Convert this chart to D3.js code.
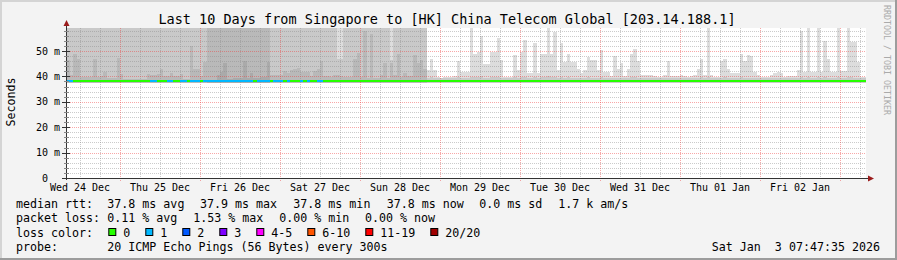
<!DOCTYPE html>
<meta charset="utf-8">
<style>
  body { margin: 0; background: #f3f3f3; }
  text { font-family: "DejaVu Sans Mono", monospace; white-space: pre; }
</style>
<svg width="897" height="260"></svg>
<script src="https://cdnjs.cloudflare.com/ajax/libs/d3/7.8.5/d3.min.js"></script>
<script>
  // graph window, UTC
  var startTime = new Date(Date.UTC(2025, 11, 24, 7, 47, 35));
  var endTime = new Date(Date.UTC(2026, 0, 3, 7, 47, 35));
  var firstBin = new Date(Date.UTC(2025, 11, 24, 8, 0, 0)); // hourly bins start here

  var medianRtt = 37.8;
  var smokeFloor = 37.6;

  // smoke layers, ms per hour (70 = off the top of the graph)
  var smokeMax = [
    70,70,70,70,70,70,70,70,70,70,70,70,70,70,70,70,
    70,70,70,70,70,70,70,70,70,70,70,70,70,70,70,70,70,70,70,70,70,70,70,70,
    70,70,70,70,70,70,70,70,70,70,70,70,70,70,70,70,70,70,70,70,70,70,70,70,
    70,70,70,70,70,70,70,70,70,70,70,70,70,70,70,70,70,70,70,70,70,70,70,70,
    70,70,70,70,70,70,70,70,70,70,70,70,70,70,70,70,70,70,70,70,42.5,47,42.5,39.9,
    39.4,39.8,39.8,39.8,40,46,41.7,41.7,41.7,59.4,49,49.6,56,45,45,49.6,49.6,55,46.5,39.8,
    39.8,39.8,48.4,42.5,49.6,54.3,41.3,41.3,53,41.3,49,49,59.4,49,57.5,42.5,53,45.5,49,45.7,
    45.7,43,41.3,42.5,47.6,46.5,46.5,42.5,50.4,41.7,41.7,40.2,48,43,45.3,40.2,43,49,50.8,46,
    40.5,40.5,40.5,40.5,40,39.6,39.6,40.5,46,40,40.2,40,40.5,40,39.6,40.2,40.5,43,47,40.5,
    59.4,40.5,39.6,39.6,46,47,43,41.3,41.3,41.3,49,46,48.4,48,41.7,40.5,39.6,39.6,39.6,40.5,
    41.3,41.7,41.3,39.6,40.2,40.2,40,42.5,58,41.7,59.4,41.7,41.7,59.4,41.7,54,47,41.7,41.7,59.4,
    42,42,59.4,53.5,53.5,45.7,39.6,39.6
  ];
  var smokeHigh = [
    70,70,70,70,70,70,70,70,70,70,70,70,70,70,70,70,
    70,70,70,70,70,70,70,70,70,70,70,70,70,70,70,70,70,70,70,70,70,70,70,70,
    70,70,70,70,70,70,70,70,70,70,70,70,70,70,70,70,70,70,70,70,70,70,70,70,
    70,70,70,70,70,70,70,70,70,70,70,70,70,70,70,70,70,47,47,70,70,70,70,70,
    70,70,70,70,70,70,70,70,70,46.5,70,70,70,70,70,70,70,70,70,70,39.4,39.6,39.4,39.2,
    39.2,39.2,39.2,39.2,39.2,39.6,39.4,39.2,39.2,39.8,39.6,39.6,40,39.4,39.4,39.8,39.6,39.8,39.4,39.2,
    39.2,39.2,39.6,39.4,39.6,39.8,39.2,39.2,39.6,39.2,39.6,39.6,40,39.6,39.8,39.4,39.6,39.4,39.6,39.4,
    39.4,39.4,39.2,39.4,39.6,39.4,39.4,39.2,39.6,39.2,39.2,39.2,39.4,39.2,39.4,39.2,39.4,39.6,39.6,39.4,
    39.2,39.2,39.2,39.2,39.2,39.2,39.2,39.2,39.4,39.2,39.2,39.2,39.2,39.2,39.2,39.2,39.2,39.4,39.6,39.2,
    39.8,39.2,39.2,39.2,39.4,39.6,39.4,39.2,39.2,39.2,39.6,39.4,39.4,39.4,39.2,39.2,39.2,39.2,39.2,39.2,
    39.2,39.2,39.2,39.2,39.2,39.2,39.2,39.2,39.6,39.2,39.8,39.2,39.2,39.8,39.2,39.6,39.4,39.2,39.2,39.8,
    39.2,39.2,39.8,39.6,39.4,39.4,39.2,39.2
  ];
  var smokeMid = [
    46.5,40.5,49,47,39.9,39.9,39.9,39.9,47,39.6,40.2,41.7,39.4,39.4,39.4,47.4,
    41,38.8,38.8,38.8,38.8,38.8,38.8,38.8,41,40.5,40.5,41,43,40,40,41.3,40.2,40.2,41,38.8,38.8,52,43,43,
    40,45.7,70,70,70,70,70,70,70,70,70,70,70,70,70,70,70,70,70,70,70,40.5,40.5,40.5,
    40.5,42,41.5,42.5,43,43.3,41.7,41.7,41.7,40,42,43,46,40.3,40.3,39.9,40.5,40.5,40,39.9,39.6,39.6,47,49.2,
    39.6,58,39.4,56.7,39.4,39.4,40.5,45.3,39.4,45.3,40.5,49,39.9,41.3,40,40,48.4,45.3,46.5,43,0,0,0,0,
    0,0,0,0,0,0,0,0,0,0,0,0,0,0,0,0,0,0,0,0,0,0,0,0,
    0,0,0,0,0,0,0,0,0,0,0,0,0,0,0,0,0,0,0,0,0,0,0,0,
    0,0,0,0,0,0,0,0,0,0,0,0,0,0,0,0,0,0,0,0,0,0,0,0,
    0,0,0,0,0,0,0,0,0,0,0,0,0,0,0,0,0,0,0,0,0,0,0,0,
    0,0,0,0,0,0,0,0,0,0,0,0,0,0,0,0,0,0,0,0,0,0,0,0,
    0,0,0,0,0,0,0,0
  ];
  var smokeLow = [
    0,0,0,0,0,0,0,0,0,0,0,0,0,0,0,0,
    0,0,0,0,0,0,0,0,0,0,0,0,0,0,0,0,0,0,0,0,0,0,0,0,
    0,0,38.6,38.6,38.6,40.5,41.9,45.3,38.8,38.8,39.4,39.4,39.4,46,39.4,41.3,39.4,39.4,39.8,39.8,45.7,0,0,0
  ];
  // lost pings (of 20) per hour
  var lossCount = [
    1,1,0,0,0,0,0,0,0,0,0,0,0,0,0,0,
    0,0,0,0,0,0,0,0,0,1,1,0,0,0,1,1,0,0,1,1,0,1,1,1,
    0,1,1,1,1,1,1,1,1,1,1,1,1,1,1,1,0,1,1,1,1,0,1,1,
    1,0,1,0,0,0,1,0,1,0,0,1,1,0,0,0,0,0,0,0,0,0,0,0
  ];

  var lossLabels = ["0", "1", "2", "3", "4-5", "6-10", "11-19", "20/20"];
  var lossColors = ["#26ff00", "#00b8ff", "#0059ff", "#7e00ff", "#ff00ff", "#ff5500", "#ff0000", "#a00000"];
  var yTicks = [0, 10, 20, 30, 40, 50];
  var yTickLabels = ["0", "10 m", "20 m", "30 m", "40 m", "50 m"];

  var title = "Last 10 Days from Singapore to [HK] China Telecom Global [203.14.188.1]";
  var rttStats = ["median rtt:", "37.8 ms avg", "37.9 ms max", "37.8 ms min", "37.8 ms now", "0.0 ms sd", "1.7 k am/s"];
  var lossStats = ["packet loss:", "0.11 % avg", "1.53 % max", "0.00 % min", "0.00 % now"];
  var probeText = ["probe:", "20 ICMP Echo Pings (56 Bytes) every 300s"];
  var stamp = "Sat Jan  3 07:47:35 2026";

  var svg = d3.select("svg");
  var x = d3.scaleUtc().domain([startTime, endTime]).range([66, 866]);
  var y = d3.scaleLinear().domain([0, 59.06]).range([178, 28]);

  // frame
  svg.append("rect").attr("width", 897).attr("height", 260).attr("fill", "#f3f3f3");
  svg.append("rect").attr("x", 0).attr("y", 0).attr("width", 897).attr("height", 2).attr("fill", "#d4d4d4");
  svg.append("rect").attr("x", 0).attr("y", 0).attr("width", 2).attr("height", 260).attr("fill", "#d4d4d4");
  svg.append("rect").attr("x", 0).attr("y", 258).attr("width", 897).attr("height", 2).attr("fill", "#9c9c9c");
  svg.append("rect").attr("x", 895).attr("y", 0).attr("width", 2).attr("height", 260).attr("fill", "#9c9c9c");

  svg.append("defs").append("clipPath").attr("id", "plot")
    .append("rect").attr("x", 66).attr("y", 28).attr("width", 800).attr("height", 150);
  svg.append("rect").attr("x", 66).attr("y", 28).attr("width", 800).attr("height", 150).attr("fill", "#fff");

  function binX0(i) { return i === 0 ? x(startTime) : x(d3.utcHour.offset(firstBin, i)); }
  function binX1(i) { return Math.min(x(d3.utcHour.offset(firstBin, i + 1)), x(endTime)); }

  // smoke
  var layers = [
    { values: smokeMax, color: "#dddddd" },
    { values: smokeHigh, color: "#c9c9c9" },
    { values: smokeMid, color: "#b9b9b9" },
    { values: smokeLow, color: "#aaaaaa" }
  ];
  layers.forEach(function(layer) {
    var bins = layer.values.map(function(v, i) { return { v: v, i: i }; })
      .filter(function(d) { return d.v > smokeFloor; });
    svg.append("g").attr("clip-path", "url(#plot)")
      .selectAll("rect").data(bins).enter().append("rect")
      .attr("shape-rendering", "crispEdges")
      .attr("x", function(d) { return binX0(d.i); })
      .attr("width", function(d) { return binX1(d.i) - binX0(d.i); })
      .attr("y", function(d) { return y(Math.min(d.v, 59.06)); })
      .attr("height", function(d) { return y(smokeFloor) - y(Math.min(d.v, 59.06)); })
      .attr("fill", layer.color);
  });

  // grid
  var grid = svg.append("g");
  var minorY = d3.range(2, 59, 2).filter(function(v) { return v % 10 !== 0; });
  var minorX = d3.utcHour.every(6).range(startTime, endTime).filter(function(t) { return t.getUTCHours() !== 0; });
  var days = d3.utcDay.range(startTime, endTime);
  grid.selectAll(".mny").data(minorY).enter().append("line")
    .attr("x1", 66).attr("x2", 866)
    .attr("y1", function(d) { return Math.round(y(d)) + 0.5; })
    .attr("y2", function(d) { return Math.round(y(d)) + 0.5; })
    .attr("stroke", "rgba(140,140,140,0.45)").attr("stroke-dasharray", "1,1");
  grid.selectAll(".mnx").data(minorX).enter().append("line")
    .attr("y1", 28).attr("y2", 178)
    .attr("x1", function(d) { return Math.round(x(d)) + 0.5; })
    .attr("x2", function(d) { return Math.round(x(d)) + 0.5; })
    .attr("stroke", "rgba(140,140,140,0.45)").attr("stroke-dasharray", "1,1");
  grid.selectAll(".mjy").data(yTicks.slice(1)).enter().append("line")
    .attr("x1", 66).attr("x2", 866)
    .attr("y1", function(d) { return Math.round(y(d)) + 0.5; })
    .attr("y2", function(d) { return Math.round(y(d)) + 0.5; })
    .attr("stroke", "rgba(240,60,60,0.45)").attr("stroke-dasharray", "1,1");
  grid.selectAll(".mjx").data(days).enter().append("line")
    .attr("y1", 28).attr("y2", 181)
    .attr("x1", function(d) { return Math.round(x(d)) + 0.5; })
    .attr("x2", function(d) { return Math.round(x(d)) + 0.5; })
    .attr("stroke", "rgba(240,60,60,0.45)").attr("stroke-dasharray", "1,1");

  // median line coloured by loss
  var my = Math.round(y(medianRtt)) - 1;
  svg.append("g").attr("clip-path", "url(#plot)")
    .selectAll("rect").data(d3.range(240)).enter().append("rect")
    .attr("shape-rendering", "crispEdges")
    .attr("x", function(i) { return binX0(i); })
    .attr("width", function(i) { return binX1(i) - binX0(i); })
    .attr("y", my - 1).attr("height", 2)
    .attr("fill", function(i) { return lossColors[lossCount[i] || 0]; });

  // axes
  var axisColor = "#333";
  svg.append("line").attr("x1", 66.5).attr("x2", 66.5).attr("y1", 180).attr("y2", 22).attr("stroke", axisColor);
  svg.append("line").attr("x1", 62).attr("x2", 869).attr("y1", 178.5).attr("y2", 178.5).attr("stroke", axisColor);
  svg.append("path").attr("d", "M63.5,26L66.5,20L69.5,26Z").attr("fill", "#9b1c1c");
  svg.append("path").attr("d", "M868,175.5L874,178.5L868,181.5Z").attr("fill", "#9b1c1c");
  svg.selectAll(".yt").data(yTicks.slice(1)).enter().append("line")
    .attr("x1", 62).attr("x2", 70)
    .attr("y1", function(d) { return Math.round(y(d)) + 0.5; })
    .attr("y2", function(d) { return Math.round(y(d)) + 0.5; })
    .attr("stroke", axisColor);
  svg.selectAll(".ymt").data(minorY).enter().append("line")
    .attr("x1", 64).attr("x2", 69)
    .attr("y1", function(d) { return Math.round(y(d)) + 0.5; })
    .attr("y2", function(d) { return Math.round(y(d)) + 0.5; })
    .attr("stroke", "#888");

  svg.selectAll(".yl").data(yTicks).enter().append("text")
    .attr("x", function(d, i) { return i === 0 ? 48 : 60; })
    .attr("y", function(d) { return y(d) + 3.6; })
    .attr("text-anchor", "end").attr("font-size", "10px").attr("fill", "#000")
    .text(function(d, i) { return yTickLabels[i]; });

  // day labels sit at noon
  var noons = d3.utcDay.range(d3.utcDay.floor(startTime), endTime)
    .map(function(d) { return d3.utcHour.offset(d, 12); })
    .filter(function(t) { return t > startTime && t < endTime; });
  var fmt = d3.utcFormat("%a %d %b");
  svg.selectAll(".xl").data(noons).enter().append("text")
    .attr("x", function(d) { return x(d); }).attr("y", 191)
    .attr("text-anchor", "middle").attr("font-size", "10px")
    .text(function(d) { return fmt(d); });

  // title and side texts
  svg.append("text").attr("x", 447).attr("y", 24).attr("text-anchor", "middle")
    .attr("font-size", "13.5px").text(title);
  svg.append("text").attr("transform", "translate(15,102) rotate(-90)")
    .attr("text-anchor", "middle").attr("font-size", "11.6px").text("Seconds");
  svg.append("text").attr("transform", "translate(884,5) rotate(90)")
    .attr("font-size", "8.3px").attr("fill", "#aaaaaa").text("RRDTOOL / TOBI OETIKER");

  // legend
  var legend = svg.append("g").attr("font-size", "11.65px");
  var rttX = [16, 107.3, 200, 293.3, 386.7, 479.3, 558.3];
  var lossX = [16, 107.3, 193.3, 279.3, 365];
  legend.selectAll(".r1").data(rttStats).enter().append("text")
    .attr("x", function(d, i) { return rttX[i]; }).attr("y", 208).text(function(d) { return d; });
  legend.selectAll(".r2").data(lossStats).enter().append("text")
    .attr("x", function(d, i) { return lossX[i]; }).attr("y", 222.3).text(function(d) { return d; });
  legend.append("text").attr("x", 16).attr("y", 236.5).text("loss color:");
  var bx = 108.3;
  lossLabels.forEach(function(lab, i) {
    legend.append("rect").attr("x", bx + 0.5).attr("y", 228.5).attr("width", 7).attr("height", 7)
      .attr("fill", lossColors[i]).attr("stroke", "#000");
    legend.append("text").attr("x", bx + 15).attr("y", 236.5).text(lab);
    bx = bx + 15 + lab.length * 7 + 15;
  });
  legend.append("text").attr("x", 16).attr("y", 250.7).text(probeText[0]);
  legend.append("text").attr("x", 107.3).attr("y", 250.7).text(probeText[1]);
  legend.append("text").attr("x", 880).attr("y", 250.7).attr("text-anchor", "end").text(stamp);
</script>
